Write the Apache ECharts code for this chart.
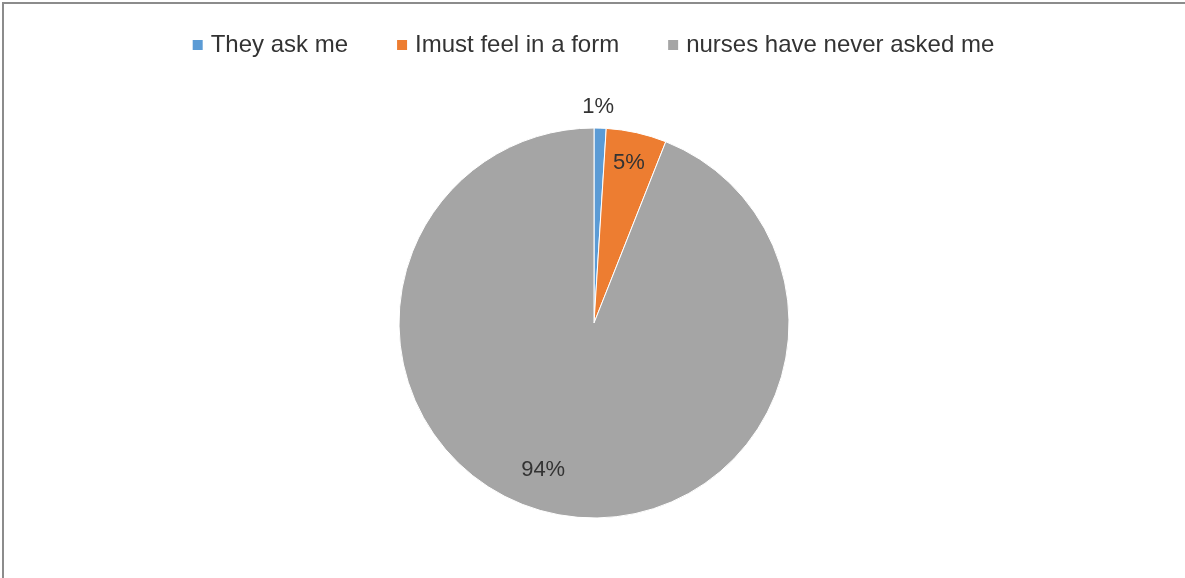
<!DOCTYPE html>
<html>
<head>
<meta charset="utf-8">
<script src="https://cdn.jsdelivr.net/npm/echarts@6/dist/echarts.min.js"></script>
<style>
html,body{margin:0;padding:0;background:#fff;}
#frame{position:absolute;left:2px;top:2px;width:1183px;height:576px;border-left:2px solid #8c8c8c;border-top:2px solid #8c8c8c;box-sizing:border-box;}
#chart{position:absolute;left:0;top:0;width:1185px;height:578px;}
</style>
</head>
<body>
<div id="frame"></div>
<div id="chart"></div>
<script>
const categories = ['They ask me', 'Imust feel in a form', 'nurses have never asked me'];
const values = [1, 5, 94];
const colors = ['#5B9BD5', '#ED7D31', '#A5A5A5'];
const labelOffsets = [[1, -116], [13, -62], [-32, 48]];

const chart = echarts.init(document.getElementById('chart'), null, {renderer: 'canvas'});
const font = 'Liberation Sans, Arial, sans-serif';
chart.setOption({
  animation: false,
  color: colors,
  legend: {
    top: 28,
    left: 'center',
    itemWidth: 12,
    itemHeight: 12,
    itemGap: 47,
    icon: 'rect',
    textStyle: {fontFamily: font, fontSize: 24, color: '#333', padding: [0, 0, 0, 2]},
    data: categories
  },
  series: [{
    type: 'pie',
    center: [594, 323],
    radius: 195,
    startAngle: 90,
    clockwise: true,
    silent: true,
    label: {
      show: true,
      position: 'inside',
      formatter: '{d}%',
      fontFamily: font,
      fontSize: 22,
      color: '#333'
    },
    labelLine: {show: false},
    itemStyle: {borderColor: '#fff', borderWidth: 1},
    data: categories.map((c, i) => ({
      name: c,
      value: values[i],
      label: {offset: labelOffsets[i]}
    }))
  }]
});
</script>
</body>
</html>
